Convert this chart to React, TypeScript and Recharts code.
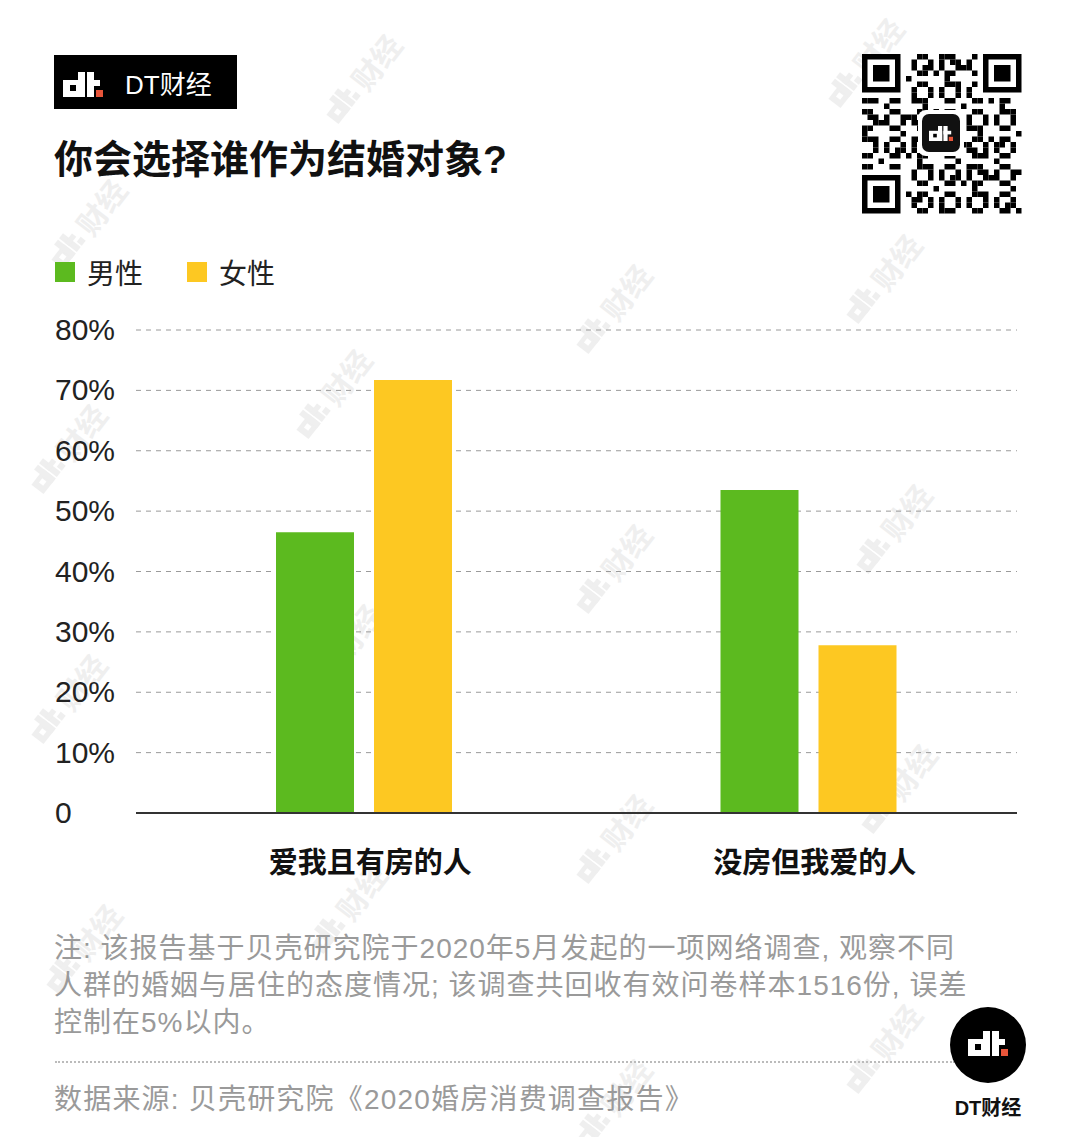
import React from 'react';
import { BarChart, Bar, XAxis, YAxis, CartesianGrid, Legend } from 'recharts';

const categories = ['爱我且有房的人', '没房但我爱的人'];
const maleValues = [46.5, 53.5];
const femaleValues = [71.7, 27.8];
const yTicks = [0, 10, 20, 30, 40, 50, 60, 70, 80];

const seriesNames = { male: '男性', female: '女性' };
const GREEN = '#5cba1f';
const YELLOW = '#fdc822';

const noteLines = [
  '注: 该报告基于贝壳研究院于2020年5月发起的一项网络调查, 观察不同',
  '人群的婚姻与居住的态度情况; 该调查共回收有效问卷样本1516份, 误差',
  '控制在5%以内。',
];
const sourceText = '数据来源: 贝壳研究院《2020婚房消费调查报告》';

// faint background watermark spots
const watermarks = [
  [872, 54], [370, 70], [95, 215], [620, 300], [890, 270], [340, 385], [75, 440],
  [620, 560], [900, 520], [350, 640], [75, 690], [620, 830], [905, 780], [355, 900],
  [90, 940], [620, 1095], [890, 1040],
];

const data = categories.map((name, i) => ({
  name,
  male: maleValues[i],
  female: femaleValues[i],
}));

const FONT = '"Liberation Sans", "Noto Sans CJK SC", sans-serif';

// "dt." glyph, drawn from blocks
const DtGlyph = ({ x, y, s, color = '#fff', hole = '#000' }: any) => (
  <g transform={`translate(${x},${y}) scale(${s})`}>
    <rect x={0} y={8} width={22} height={17} fill={color} />
    <rect x={15} y={0} width={7} height={25} fill={color} />
    <rect x={7} y={13} width={6} height={6} fill={hole} />
    <rect x={24} y={0} width={7} height={25} fill={color} />
    <rect x={24} y={8} width={13} height={6} fill={color} />
    <rect x={33} y={18} width={7} height={7} fill={color === '#fff' ? '#e8553a' : color} />
  </g>
);

// decorative QR-like block
const QrCode = () => {
  const n = 29;
  const m = 5.5;
  const cells: React.ReactNode[] = [];
  const inFinder = (r: number, c: number) =>
    (r < 8 && c < 8) || (r < 8 && c >= n - 8) || (r >= n - 8 && c < 8);
  for (let r = 0; r < n; r++) {
    for (let c = 0; c < n; c++) {
      if (inFinder(r, c)) continue;
      const on = ((r * 7 + c * 11 + r * c) % 5) < 2 || ((r + 3 * c) % 7 === 0);
      if (on) cells.push(<rect key={`${r}-${c}`} x={c * m} y={r * m} width={m} height={m} fill="#000" />);
    }
  }
  const finder = (fx: number, fy: number) => (
    <g key={`f${fx}-${fy}`}>
      <rect x={fx} y={fy} width={7 * m} height={7 * m} fill="#000" />
      <rect x={fx + m} y={fy + m} width={5 * m} height={5 * m} fill="#fff" />
      <rect x={fx + 2 * m} y={fy + 2 * m} width={3 * m} height={3 * m} fill="#000" />
    </g>
  );
  return (
    <svg width={160} height={160} style={{ position: 'absolute', left: 862, top: 54 }}>
      {cells}
      {finder(0, 0)}
      {finder((n - 7) * m, 0)}
      {finder(0, (n - 7) * m)}
      <rect x={56} y={56} width={46} height={46} rx={8} fill="#fff" />
      <rect x={60} y={60} width={38} height={38} rx={7} fill="#111" />
      <DtGlyph x={67} y={72} s={0.6} />
    </svg>
  );
};

const YTick = (props: any) => {
  const { y, payload } = props;
  return (
    <text x={55} y={y} dy={10} textAnchor="start" fontSize={30} fill="#222" fontFamily={FONT}>
      {payload.value === 0 ? '0' : `${payload.value}%`}
    </text>
  );
};

const XTick = (props: any) => {
  const { x, payload } = props;
  return (
    <text x={x + 6} y={873} textAnchor="middle" fontSize={29} fontWeight={700} fill="#111" fontFamily={FONT}>
      {payload.value}
    </text>
  );
};

const LegendContent = () => (
  <div style={{ display: 'flex', alignItems: 'center', fontFamily: FONT, fontSize: 28, color: '#222' }}>
    <span style={{ width: 20, height: 20, background: GREEN, display: 'inline-block', marginRight: 12 }} />
    <span style={{ marginRight: 44 }}>{seriesNames.male}</span>
    <span style={{ width: 20, height: 20, background: YELLOW, display: 'inline-block', marginRight: 12 }} />
    <span>{seriesNames.female}</span>
  </div>
);

export default function App() {
  return (
    <div style={{ position: 'absolute', left: 0, top: 0, width: 1080, height: 1137, background: '#fff', overflow: 'hidden', fontFamily: FONT }}>
      <svg width={1080} height={1137} style={{ position: 'absolute', left: 0, top: 0 }}>
        {watermarks.map(([wx, wy]) => (
          <g key={`${wx}-${wy}`} transform={`translate(${wx},${wy}) rotate(-52)`} opacity={0.09}>
            <DtGlyph x={-62} y={-14} s={0.9} color="#555" hole="#fff" />
            <text x={-20} y={12} fontSize={30} fontWeight={700} fill="#555" fontFamily={FONT}>财经</text>
          </g>
        ))}
      </svg>

      {/* top-left brand box */}
      <svg width={183} height={54} style={{ position: 'absolute', left: 54, top: 55 }}>
        <rect width={183} height={54} fill="#000" />
        <DtGlyph x={9} y={17} s={1} />
        <text x={71} y={39} fontSize={26} fill="#fff" fontFamily={FONT}>DT财经</text>
      </svg>

      <div style={{ position: 'absolute', left: 54, top: 135, fontSize: 39, fontWeight: 700, color: '#111', lineHeight: '50px' }}>
        你会选择谁作为结婚对象?
      </div>

      <QrCode />

      <div style={{ position: 'absolute', left: 0, top: 0 }}>
        <BarChart width={1080} height={900} data={data} margin={{ top: 330, right: 63, left: 0, bottom: 27 }} barSize={78} barGap={20}>
          <CartesianGrid vertical={false} stroke="#9a9a9a" strokeDasharray="5 5" />
          <XAxis dataKey="name" height={60} padding={{ left: 6, right: -14 }} axisLine={{ stroke: '#333', strokeWidth: 2 }} tickLine={false} tick={<XTick />} />
          <YAxis width={136} domain={[0, 80]} ticks={yTicks} axisLine={false} tickLine={false} tick={<YTick />} />
          <Legend layout="horizontal" verticalAlign="middle" align="center" content={<LegendContent />} wrapperStyle={{ position: 'absolute', top: 252, left: 55, width: 400 }} />
          <Bar dataKey="male" name={seriesNames.male} fill={GREEN} isAnimationActive={false} />
          <Bar dataKey="female" name={seriesNames.female} fill={YELLOW} isAnimationActive={false} />
        </BarChart>
      </div>

      <div style={{ position: 'absolute', left: 54, top: 930, fontSize: 28, letterSpacing: 1, color: '#9a9a9a', lineHeight: '37px', whiteSpace: 'nowrap' }}>
        {noteLines.map((l) => (
          <div key={l}>{l}</div>
        ))}
      </div>

      <div style={{ position: 'absolute', left: 55, top: 1061, width: 900, borderTop: '2px dotted #bbb' }} />

      <div style={{ position: 'absolute', left: 54, top: 1081, fontSize: 28, letterSpacing: 1.2, color: '#9a9a9a', lineHeight: '37px', whiteSpace: 'nowrap' }}>
        {sourceText}
      </div>

      {/* bottom-right round logo */}
      <svg width={80} height={80} style={{ position: 'absolute', left: 948, top: 1005 }}>
        <circle cx={40} cy={40} r={38} fill="#000" />
        <DtGlyph x={20} y={26} s={1} />
      </svg>
      <div style={{ position: 'absolute', left: 948, width: 80, top: 1092, textAlign: 'center', fontSize: 20, fontWeight: 700, color: '#111' }}>
        DT财经
      </div>
    </div>
  );
}
